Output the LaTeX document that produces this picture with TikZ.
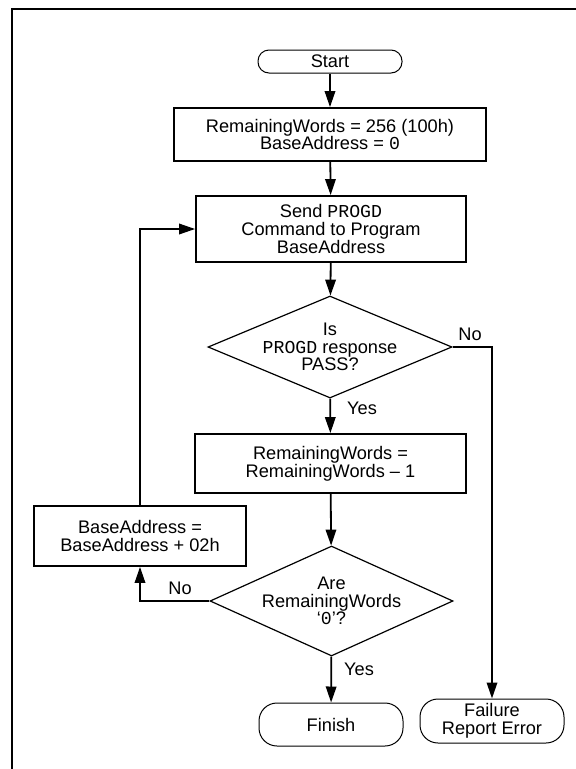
\documentclass[tikz,border=0pt]{standalone}
\usepackage{fontspec}
\setmainfont{Liberation Sans}
\newfontfamily\cour{Liberation Mono}
\usetikzlibrary{shapes.geometric,arrows.meta}
\begin{document}
\begin{tikzpicture}[x=1pt,y=-1pt,
  font=\fontsize{18.2}{17.8}\selectfont,
  box/.style={draw,line width=1.8pt,rectangle,inner sep=0pt,align=center},
  term/.style={draw,line width=1pt,rounded corners=11pt,inner sep=0pt,align=center},
  bigterm/.style={term,rounded corners=18pt},
  dia/.style={draw,line width=1.2pt,diamond,inner sep=0pt},
  conn/.style={line width=1.8pt,-{Triangle[length=16pt,width=10.5pt]}},
  lbl/.style={inner sep=0pt,align=center}]
\useasboundingbox (0,0) rectangle (576,769);
\draw[line width=2.5pt] (12,770) -- (12,9) -- (577,9);

\node[term,minimum width=144pt,minimum height=23pt] (start) at (330,61.5) {Start};
\node[box,minimum width=312pt,minimum height=53pt] (init) at (330,134.5)
  {RemainingWords = 256 (100h)\\BaseAddress = {\cour 0}};
\node[box,minimum width=270pt,minimum height=66pt] (send) at (331,229)
  {Send {\cour PROGD}\\Command to Program\\BaseAddress};
\node[dia,minimum width=244pt,minimum height=102pt] (d1) at (330,347) {};
\node[lbl] (d1t) at (330,347) {Is\\{\cour PROGD} response\\PASS?};
\node[box,minimum width=271pt,minimum height=59pt] (dec) at (330.5,463.5)
  {RemainingWords =\\RemainingWords -- 1};
\node[box,minimum width=212pt,minimum height=60pt] (inc) at (140,536)
  {BaseAddress =\\BaseAddress + 02h};
\node[dia,minimum width=243pt,minimum height=110pt] (d2) at (331.5,601) {};
\node[lbl] (d2t) at (331.5,601) {Are\\RemainingWords\\`{\cour 0}'?};
\node[bigterm,minimum width=144pt,minimum height=43pt] (finish) at (331,724.5) {Finish};
\node[bigterm,minimum width=144pt,minimum height=44pt] (fail) at (492,721) {Failure\\Report Error};

\draw[conn] (start) -- (init);
\draw[conn] (init) -- (send);
\draw[conn] (send) -- (d1);
\draw[conn] (d1) -- (dec);
\draw[conn] (dec) -- (d2);
\draw[conn] (d2) -- (finish);
\draw[conn] (d1.east) -| (fail.north);
\draw[conn] (d2.west) -| (inc.south);
\draw[conn] (inc.north) |- (send.west);

\node[lbl,anchor=west] (y1) at (347,408) {Yes};
\node[lbl,anchor=west] (y2) at (344,669) {Yes};
\node[lbl] (n1) at (470,334) {No};
\node[lbl] (n2) at (180,588) {No};
\end{tikzpicture}
\end{document}
